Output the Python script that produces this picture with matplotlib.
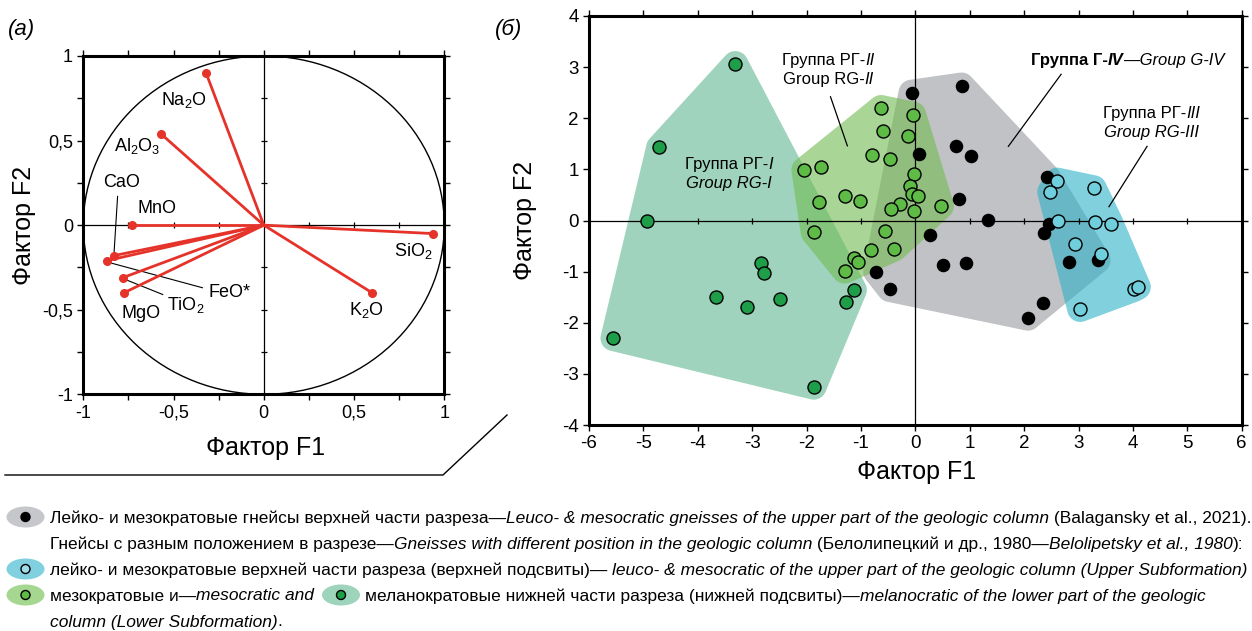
import numpy as np
import matplotlib
matplotlib.use("Agg")
import matplotlib.pyplot as plt
from matplotlib.patches import Ellipse, Polygon, Circle
from matplotlib.lines import Line2D
from matplotlib.transforms import IdentityTransform
from matplotlib.font_manager import FontProperties

plt.rcParams['font.family'] = ['Liberation Sans', 'DejaVu Sans']
plt.rcParams['axes.unicode_minus'] = False
plt.rcParams['mathtext.fontset'] = 'custom'
plt.rcParams['mathtext.rm'] = 'Liberation Sans'
plt.rcParams['mathtext.it'] = 'Liberation Sans:italic'

W, H = 1252, 631
NARROW = ['Liberation Sans Narrow', 'Liberation Sans']

# ---- (a) factor loadings
oxides = ['SiO2', 'K2O', 'Na2O', 'Al2O3', 'MnO', 'CaO', 'FeO*', 'TiO2', 'MgO']
ox_labels = [r'$\mathregular{SiO_2}$', r'$\mathregular{K_2O}$', r'$\mathregular{Na_2O}$',
             r'$\mathregular{Al_2O_3}$', 'MnO', 'CaO', 'FeO*', r'$\mathregular{TiO_2}$', 'MgO']
load_f1 = [0.94, 0.60, -0.32, -0.57, -0.73, -0.83, -0.87, -0.78, -0.775]
load_f2 = [-0.05, -0.40, 0.90, 0.54, 0.00, -0.18, -0.21, -0.31, -0.40]
lab_x = [0.83, 0.57, -0.44, -0.70, -0.59, -0.79, -0.19, -0.43, -0.68]
lab_y = [-0.15, -0.50, 0.74, 0.47, 0.10, 0.25, -0.40, -0.47, -0.52]

# ---- (б) factor scores
g4_f1 = [-0.07, 0.85, 0.06, 0.75, 1.03, 0.81, 1.34, 0.27, 0.50, 0.94, -0.72, -0.47,
         2.42, 2.45, 2.36, 2.83, 3.35, 2.35, 2.07]
g4_f2 = [2.50, 2.64, 1.30, 1.46, 1.27, 0.43, 0.01, -0.29, -0.87, -0.83, -1.00, -1.34,
         0.86, -0.06, -0.25, -0.81, -0.78, -1.62, -1.90]
rg3_f1 = [2.61, 2.48, 3.28, 2.62, 3.30, 3.59, 2.94, 3.42, 4.02, 4.09, 3.03]
rg3_f2 = [0.78, 0.56, 0.63, 0.00, -0.02, -0.06, -0.45, -0.65, -1.34, -1.30, -1.73]
rg2_f1 = [-0.63, -0.04, -0.59, -0.13, -0.79, -0.46, -2.04, -1.74, -0.02, -0.10, -0.07,
          0.04, -1.29, -1.02, -1.77, -0.28, -0.45, -0.02, 0.47, -1.87, -0.56, -0.82,
          -0.39, -1.13, -1.05, -1.30]
rg2_f2 = [2.20, 2.07, 1.75, 1.65, 1.29, 1.20, 0.99, 1.05, 0.90, 0.68, 0.52,
          0.48, 0.48, 0.39, 0.37, 0.33, 0.22, 0.18, 0.28, -0.23, -0.20, -0.57,
          -0.55, -0.74, -0.81, -0.98]
rg1_f1 = [-3.31, -4.71, -4.93, -5.55, -2.84, -2.79, -3.67, -3.09, -2.49, -1.87, -1.27, -1.13]
rg1_f2 = [3.06, 1.43, 0.00, -2.30, -0.83, -1.02, -1.49, -1.70, -1.54, -3.25, -1.60, -1.36]

fig = plt.figure(figsize=(W / 100, H / 100), dpi=100)
renderer = fig.canvas.get_renderer()


def px_axes(x0, y0, x1, y1):
    # pixel box (top-left origin) -> figure fraction axes
    return fig.add_axes([x0 / W, (H - y1) / H, (x1 - x0) / W, (y1 - y0) / H])


def style_axes(ax, lw=2.2):
    for s in ax.spines.values():
        s.set_linewidth(lw)
    ax.tick_params(direction='out', length=4.5, width=1.0, top=True, right=True,
                   labelsize=13.5, pad=3)


def fp(style, size, family=None):
    return FontProperties(family=family or ['Liberation Sans'],
                          style='italic' if 'i' in style else 'normal',
                          weight='bold' if 'b' in style else 'normal', size=size)


def seg_width(s, prop):
    a = fig.text(0, 0, '|' + s + '|', fontproperties=prop)
    b = fig.text(0, 0, '||', fontproperties=prop)
    w = a.get_window_extent(renderer).width - b.get_window_extent(renderer).width
    a.remove()
    b.remove()
    return w


def rich(x, y, segs, size, family=None, ha='left'):
    # x, y in display pixels (bottom origin), y = baseline
    props = [fp(st, size, family) for _, st in segs]
    widths = [seg_width(s, p) for (s, _), p in zip(segs, props)]
    if ha == 'center':
        x -= sum(widths) / 2
    for (s, _), p, w in zip(segs, props, widths):
        fig.text(x, y, s, fontproperties=p, transform=IdentityTransform(), va='baseline')
        x += w
    return x


def hull(pts):
    pts = sorted(set(map(tuple, pts)))

    def cross(o, a, b):
        return (a[0] - o[0]) * (b[1] - o[1]) - (a[1] - o[1]) * (b[0] - o[0])
    lower, upper = [], []
    for p in pts:
        while len(lower) >= 2 and cross(lower[-2], lower[-1], p) <= 0:
            lower.pop()
        lower.append(p)
    for p in reversed(pts):
        while len(upper) >= 2 and cross(upper[-2], upper[-1], p) <= 0:
            upper.pop()
        upper.append(p)
    return np.array(lower[:-1] + upper[:-1])


def rounded_hull(xs, ys, rx, ry):
    t = np.linspace(0, 2 * np.pi, 40, endpoint=False)
    pts = [(x + rx * np.cos(a), y + ry * np.sin(a)) for x, y in zip(xs, ys) for a in t]
    return hull(pts)


# ================= panel (a)
axa = px_axes(83.3, 56, 444.3, 394.3)
axa.set_xlim(-1, 1)
axa.set_ylim(-1, 1)
style_axes(axa)
ticks = np.arange(-1, 1.01, 0.25)
tlabels = ['-1', '', '-0,5', '', '0', '', '0,5', '', '1']
axa.set_xticks(ticks)
axa.set_xticklabels(tlabels)
axa.set_yticks(ticks)
axa.set_yticklabels(tlabels)
axa.tick_params(labelsize=13)
axa.axhline(0, color='k', lw=0.9, zorder=1)
axa.axvline(0, color='k', lw=0.9, zorder=1)
inner = [-0.75, -0.5, -0.25, 0.25, 0.5, 0.75]
axa.plot(inner, [0] * 6, ls='none', marker='|', ms=4, mew=0.9, color='k', zorder=1)
axa.plot([0] * 6, inner, ls='none', marker='_', ms=4, mew=0.9, color='k', zorder=1)
axa.add_patch(Circle((0, 0), 1, fill=False, lw=1.0, color='k', zorder=1))
red = '#e5332a'
for x, y in zip(load_f1, load_f2):
    axa.plot([0, x], [0, y], color=red, lw=2.0, zorder=3, solid_capstyle='round')
axa.plot(load_f1, load_f2, ls='none', marker='o', ms=5.5, color=red, zorder=4)
for s, x, y in zip(ox_labels, lab_x, lab_y):
    axa.text(x, y, s, ha='center', va='center', fontsize=13)
# leader lines
axa.plot([-0.81, -0.83], [0.17, -0.17], color='k', lw=0.8, zorder=2)
axa.plot([-0.86, -0.34], [-0.22, -0.37], color='k', lw=0.8, zorder=2)
axa.plot([-0.77, -0.56], [-0.32, -0.41], color='k', lw=0.8, zorder=2)

# ================= panel (б)
axb = px_axes(589, 16, 1241.7, 425)
axb.set_xlim(-6, 6)
axb.set_ylim(-4, 4)
style_axes(axb)
axb.set_xticks(range(-6, 7))
axb.set_yticks(range(-4, 5))
axb.axhline(0, color='k', lw=0.9, zorder=3)
axb.axvline(0, color='k', lw=0.9, zorder=3)
axb.plot([-5, -4, -3, -2, -1, 1, 2, 3, 4, 5], [0] * 10, ls='none', marker='|', ms=4,
         mew=0.9, color='k', zorder=3)

rx, ry = 13 / 54.4, 13 / 51.1
axb.add_patch(Polygon(rounded_hull(g4_f1, g4_f2, rx, ry), closed=True,
                      fc='#c1c2c5', ec='none', zorder=1))
axb.add_patch(Polygon(rounded_hull(rg1_f1, rg1_f2, rx, ry), closed=True,
                      fc='#61b793', ec='none', alpha=0.6, zorder=1.1))
axb.add_patch(Polygon(rounded_hull(rg2_f1, rg2_f2, rx, ry), closed=True,
                      fc='#71bc50', ec='none', alpha=0.6, zorder=1.2))
axb.add_patch(Polygon(rounded_hull(rg3_f1, rg3_f2, rx, ry), closed=True,
                      fc='#2bb1c8', ec='none', alpha=0.6, zorder=1.3))

axb.scatter(g4_f1, g4_f2, s=95, c='k', zorder=4, linewidths=0)
axb.scatter(rg1_f1, rg1_f2, s=88, c='#1f9e4a', edgecolors='k', linewidths=1, zorder=5)
axb.scatter(rg2_f1, rg2_f2, s=88, c='#5dbb46', edgecolors='k', linewidths=1, zorder=5)
axb.scatter(rg3_f1, rg3_f2, s=88, c='#6fcfdd', edgecolors='k', linewidths=1, zorder=6)

# leaders
for (x0, y0), (x1, y1) in [((-1.56, 2.42), (-1.25, 1.46)), ((2.68, 2.86), (1.71, 1.45)),
                           ((4.26, 1.45), (3.56, 0.27))]:
    axb.plot([x0, x1], [y0, y1], color='k', lw=0.9, zorder=7)

# text -------------------------------------------------
def disp(ax, x, y):
    return ax.transData.transform((x, y))


fs_ann = 12
base = 4.5
x, y = disp(axb, -3.43, 1.09)
rich(x, y - base, [('Группа РГ-', 'n'), ('I', 'i')], fs_ann, NARROW, 'center')
x, y = disp(axb, -3.43, 0.72)
rich(x, y - base, [('Group RG-I', 'i')], fs_ann, NARROW, 'center')
x, y = disp(axb, -1.60, 3.12)
rich(x, y - base, [('Группа РГ-', 'n'), ('II', 'i')], fs_ann, NARROW, 'center')
x, y = disp(axb, -1.60, 2.75)
rich(x, y - base, [('Group RG-', 'n'), ('II', 'i')], fs_ann, NARROW, 'center')
x, y = disp(axb, 2.12, 3.13)
rich(x, y - base, [('Группа Г-', 'b'), ('IV', 'bi'), ('—Group G-IV', 'i')], fs_ann, NARROW)
x, y = disp(axb, 4.35, 2.10)
rich(x, y - base, [('Группа РГ-', 'n'), ('III', 'i')], fs_ann, NARROW, 'center')
x, y = disp(axb, 4.35, 1.72)
rich(x, y - base, [('Group RG-III', 'i')], fs_ann, NARROW, 'center')

# axis labels and panel letters
lab_fs = 18
fig.text(266 / W, 1 - 448 / H, 'Фактор F1', ha='center', va='center', fontsize=lab_fs)
fig.text(24 / W, 1 - 225 / H, 'Фактор F2', ha='center', va='center', fontsize=lab_fs,
         rotation=90)
fig.text(917 / W, 1 - 472 / H, 'Фактор F1', ha='center', va='center', fontsize=lab_fs)
fig.text(525 / W, 1 - 220 / H, 'Фактор F2', ha='center', va='center', fontsize=lab_fs,
         rotation=90)
fig.text(8 / W, 1 - 29 / H, '(a)', ha='left', va='center', fontsize=16, style='italic')
fig.text(495 / W, 1 - 29 / H, '(б)', ha='left', va='center', fontsize=16, style='italic')

fig.add_artist(Line2D([5 / W, 443 / W, 507 / W], [1 - 475 / H, 1 - 475 / H, 1 - 415 / H],
                      color='k', lw=1.0))

# legend -----------------------------------------------
row1 = [('Лейко- и мезократовые гнейсы верхней части разреза—', 'n'),
        ('Leuco- & mesocratic gneisses of the upper part of the geologic column', 'i'),
        (' (Balagansky et al., 2021).', 'n')]
row2 = [('Гнейсы с разным положением в разрезе—', 'n'),
        ('Gneisses with different position in the geologic column', 'i'),
        (' (Белолипецкий и др., 1980—', 'n'), ('Belolipetsky et al., 1980', 'i'), ('):', 'n')]
row3 = [('лейко- и мезократовые верхней части разреза (верхней подсвиты)— ', 'n'),
        ('leuco- & mesocratic of the upper part of the geologic column (Upper Subformation)', 'i')]
row4a = [('мезократовые и—', 'n'), ('mesocratic and', 'i')]
row4b = [('меланократовые нижней части разреза (нижней подсвиты)—', 'n'),
         ('melanocratic of the lower part of the geologic', 'i')]
row5 = [('column (Lower Subformation)', 'i'), ('.', 'n')]

# fit legend font to the row width
w12 = sum(seg_width(s, fp(st, 12, NARROW)) for s, st in row1)
fs_leg = 12 * 1198 / w12
rows_y = [517, 543, 569, 595, 621]
tx = 50


def leg_sym(cx, cy, fc, dot_fc, dot_ec):
    fig.add_artist(Ellipse((cx / W, 1 - cy / H), 38 / W, 21 / H, fc=fc, ec='none'))
    fig.add_artist(Ellipse((cx / W, 1 - cy / H), 9 / W, 9 / H, fc=dot_fc, ec=dot_ec, lw=1.0))


leg_sym(25.5, rows_y[0], '#c6c7ca', 'k', 'k')
leg_sym(25.5, rows_y[2], '#80d0e0', '#9fdde8', 'k')
leg_sym(25.5, rows_y[3], '#a5d790', '#5dbb46', 'k')
for segs, ry_ in [(row1, rows_y[0]), (row2, rows_y[1]), (row3, rows_y[2]), (row5, rows_y[4])]:
    rich(tx, H - ry_ - 5.5, segs, fs_leg, NARROW)
xend = rich(tx, H - rows_y[3] - 5.5, row4a, fs_leg, NARROW)
leg_sym(xend + 27, rows_y[3], '#9dd4bb', '#1f9e4a', 'k')
rich(xend + 51, H - rows_y[3] - 5.5, row4b, fs_leg, NARROW)

fig.savefig('out.png', dpi=100)
